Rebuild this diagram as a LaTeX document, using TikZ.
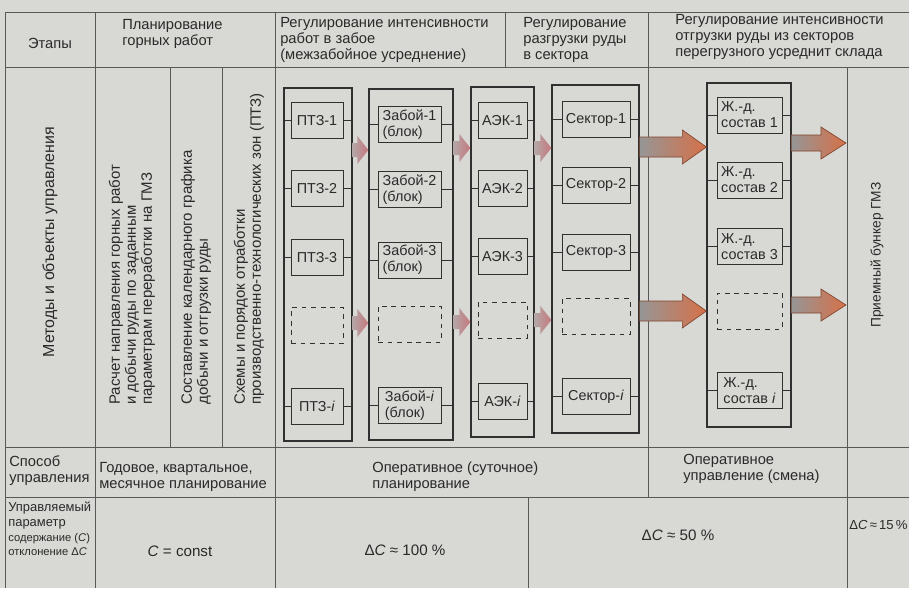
\documentclass[tikz,border=0pt]{standalone}
\usepackage{fontspec}
\setmainfont{Liberation Sans}
\usetikzlibrary{positioning,calc,fit}
\definecolor{PaperGray}{RGB}{216,216,213}
\definecolor{LineGray}{RGB}{88,88,88}
\definecolor{FrameDark}{RGB}{48,48,48}
\definecolor{InkGray}{RGB}{42,42,42}
\definecolor{ShaftGray}{RGB}{150,150,150}
\definecolor{HeadOrange}{RGB}{214,112,72}
\definecolor{SmallShaft}{RGB}{180,166,166}
\definecolor{SmallHead}{RGB}{198,120,126}
\newcommand{\pxu}{0.22mm}
% block arrow: style, from, to, shaft half width, head half width, head length
\newcommand{\fatarrow}[6]{%
  \path[#1] ($(#2)+(0,#4)$) -- ($(#3)+(-#6,#4)$) -- ($(#3)+(-#6,#5)$) -- (#3)
    -- ($(#3)+(-#6,-#5)$) -- ($(#3)+(-#6,-#4)$) -- ($(#2)+(0,-#4)$) -- cycle;}
\tikzset{
  tabline/.style={draw=LineGray,line width=0.5pt},
  colframe/.style={draw=FrameDark,line width=0.8pt,inner sep=0pt},
  cell/.style={draw=FrameDark,line width=0.6pt,minimum height=36*\pxu,inner sep=1pt,
    align=left,font=\fontsize{9}{10}\selectfont,text=InkGray},
  dashcell/.style={cell,dashed},
  ptzbox/.style={cell,minimum width=52*\pxu},
  zabbox/.style={cell,minimum width=63*\pxu},
  aekbox/.style={cell,minimum width=49*\pxu},
  secbox/.style={cell,minimum width=68*\pxu},
  zdbox/.style={cell,minimum width=65*\pxu},
  stub/.style={draw=FrameDark,line width=0.5pt},
  headtext/.style={align=left,anchor=north west,inner sep=0pt,
    font=\fontsize{9.2}{10}\selectfont,text=InkGray},
  rottext/.style={rotate=90,align=left,inner sep=0pt,
    font=\fontsize{9.4}{10}\selectfont,text=InkGray},
  valtext/.style={inner sep=0pt,font=\fontsize{9.5}{11}\selectfont,text=InkGray},
  smallarrow/.style={left color=SmallShaft,right color=SmallHead},
  bigarrow/.style={left color=ShaftGray,right color=HeadOrange,
    draw=HeadOrange!60!black,line width=0.4pt}
}

\begin{document}
\begin{tikzpicture}[x=\pxu,y=-\pxu]
  \fill[PaperGray] (0,0) rectangle (909,588);
  \useasboundingbox (0,0) rectangle (909,588);

  % table rules
  \draw[tabline,line width=0.6pt] (5,12) -- (909,12) (5,67) -- (909,67)
    (5,447) -- (909,447) (5,497) -- (909,497);
  \draw[tabline] (5,12) -- (5,588) (95,12) -- (95,588) (275,12) -- (275,588)
    (505,12) -- (505,67) (648,12) -- (648,497) (847,67) -- (847,588)
    (528,497) -- (528,588) (170,67) -- (170,447) (222,67) -- (222,447);

  % header row
  \node[headtext,anchor=center] (hstage) at (50,43) {Этапы};
  \node[headtext] (hplan) at (122,19) {Планирование\\горных работ};
  \node[headtext] (hface) at (280,17) {Регулирование интенсивности\\работ в забое\\(межзабойное усреднение)};
  \node[headtext] (hsector) at (523,17) {Регулирование\\разгрузки руды\\в сектора};
  \node[headtext] (hship) at (675,14) {Регулирование интенсивности\\отгрузки руды из секторов\\перегрузного усреднит склада};

  % methods column
  \node[rottext,font=\fontsize{10}{11}\selectfont] (methods) at (50,242) {Методы и объекты управления};
  \node[rottext,anchor=west] (calcdir) at (132,405) {Расчет направления горных работ\\и добычи руды по заданным\\параметрам переработки на ГМЗ};
  \node[rottext,anchor=west] (sched) at (196,405) {Составление календарного графика\\добычи и отгрузки руды};
  \node[rottext,anchor=west] (order) at (249,405) {Схемы и порядок отработки\\производственно-технологических зон (ПТЗ)};
  \node[rottext,font=\fontsize{8.6}{10}\selectfont] (bunker) at (877,255) {Приемный бункер ГМЗ};
  \coordinate (bunkerline) at (846,255);

  % column frames
  \node[colframe,fit={(284,88) (352,441)}] (ptzcol) {};
  \node[colframe,fit={(369,89) (453,440)}] (zabcol) {};
  \node[colframe,fit={(471,87) (534,437)}] (aekcol) {};
  \node[colframe,fit={(552,85) (639,433)}] (seccol) {};
  \node[colframe,fit={(707,83) (791,427)}] (zdcol) {};

  % zones
  \node[ptzbox] (ptz1) at (317,120.5) {ПТЗ-1};
  \node[ptzbox] (ptz2) at (317,188.5) {ПТЗ-2};
  \node[ptzbox] (ptz3) at (317,257.5) {ПТЗ-3};
  \node[ptzbox,dashed] (ptzx) at (317,325.5) {};
  \node[ptzbox] (ptzi) at (317,406.5) {ПТЗ-\textit{i}};
  % faces
  \node[zabbox] (zab1) at (409.5,124.5) {Забой-1\\(блок)};
  \node[zabbox] (zab2) at (409.5,189.5) {Забой-2\\(блок)};
  \node[zabbox] (zab3) at (409.5,260) {Забой-3\\(блок)};
  \node[zabbox,dashed] (zabx) at (409.5,324) {};
  \node[zabbox] (zabi) at (409.5,405.5) {Забой-\textit{i}\\(блок)};
  % excavators
  \node[aekbox] (aek1) at (502.5,120.5) {АЭК-1};
  \node[aekbox] (aek2) at (502.5,188.5) {АЭК-2};
  \node[aekbox] (aek3) at (502.5,256.5) {АЭК-3};
  \node[aekbox,dashed] (aekx) at (502.5,320) {};
  \node[aekbox] (aeki) at (502.5,401.5) {АЭК-\textit{i}};
  % sectors
  \node[secbox] (sec1) at (596,119.5) {Сектор-1};
  \node[secbox] (sec2) at (596,185) {Сектор-2};
  \node[secbox] (sec3) at (596,252) {Сектор-3};
  \node[secbox,dashed] (secx) at (596,316.5) {};
  \node[secbox] (seci) at (596,396.5) {Сектор-\textit{i}};
  % trains
  \node[zdbox] (zd1) at (749.5,115) {Ж.-д.\\состав 1};
  \node[zdbox] (zd2) at (749.5,180) {Ж.-д.\\состав 2};
  \node[zdbox] (zd3) at (749.5,246.5) {Ж.-д.\\состав 3};
  \node[zdbox,dashed] (zdx) at (749.5,311) {};
  \node[zdbox] (zdi) at (749.5,390.5) {Ж.-д.\\состав \textit{i}};

  \foreach \colname/\cellname in {ptzcol/ptz1,ptzcol/ptz2,ptzcol/ptz3,ptzcol/ptzi,
      zabcol/zab1,zabcol/zab2,zabcol/zab3,zabcol/zabi,
      aekcol/aek1,aekcol/aek2,aekcol/aek3,aekcol/aeki,
      seccol/sec1,seccol/sec2,seccol/sec3,seccol/seci,
      zdcol/zd1,zdcol/zd2,zdcol/zd3,zdcol/zdi}
    \draw[stub] (\cellname.west) -- (\cellname.west -| \colname.west)
      (\cellname.east) -- (\cellname.east -| \colname.east);

  % flows between columns
  \fatarrow{smallarrow}{ptzcol.east |- 0,150}{zabcol.west |- 0,150}{7}{14}{11}
  \fatarrow{smallarrow}{ptzcol.east |- 0,323}{zabcol.west |- 0,323}{7}{14}{11}
  \fatarrow{smallarrow}{zabcol.east |- 0,148}{aekcol.west |- 0,148}{7}{14}{11}
  \fatarrow{smallarrow}{zabcol.east |- 0,322}{aekcol.west |- 0,322}{7}{14}{11}
  \fatarrow{smallarrow}{aekcol.east |- 0,148}{seccol.west |- 0,148}{7}{14}{11}
  \fatarrow{smallarrow}{aekcol.east |- 0,320}{seccol.west |- 0,320}{7}{14}{11}
  \fatarrow{bigarrow}{seccol.east |- 0,147}{zdcol.west |- 0,147}{10}{17}{24}
  \fatarrow{bigarrow}{seccol.east |- 0,311}{zdcol.west |- 0,311}{10}{17}{24}
  \fatarrow{bigarrow}{zdcol.east |- 0,143}{bunkerline |- 0,143}{8}{16}{25}
  \fatarrow{bigarrow}{zdcol.east |- 0,305}{bunkerline |- 0,305}{8}{16}{25}

  % control mode row
  \node[headtext] (mode) at (9,455) {Способ\\управления};
  \node[headtext] (modeplan) at (99,462) {Годовое, квартальное,\\месячное планирование};
  \node[headtext] (modeday) at (372,462) {Оперативное (суточное)\\планирование};
  \node[headtext] (modeshift) at (683,454) {Оперативное\\управление (смена)};

  % controlled parameter row
  \node[headtext,font=\fontsize{8.1}{9.4}\selectfont] (param) at (8,502) {Управляемый\\параметр};
  \node[headtext,font=\fontsize{7}{8.6}\selectfont] (paramdef) at (8,533) {содержание (\textit{C})\\отклонение Δ\textit{C}};
  \node[valtext] (vconst) at (180,551) {\textit{C} = const};
  \node[valtext] (v100) at (405,550) {Δ\textit{C} ≈ 100 \%};
  \node[valtext] (v50) at (678,535) {Δ\textit{C} ≈ 50 \%};
  \node[valtext,anchor=west,font=\fontsize{8.2}{10}\selectfont] (v15) at (849,525) {Δ\textit{C}\,≈\,15\,\%};
\end{tikzpicture}
\end{document}
